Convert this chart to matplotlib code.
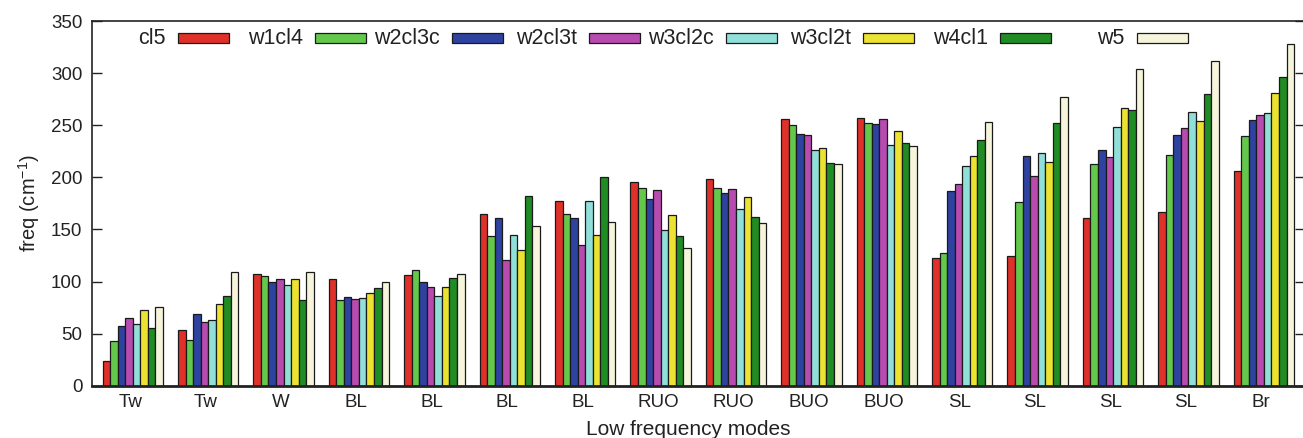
import numpy as np
import matplotlib
matplotlib.use("Agg")
import matplotlib.pyplot as plt
from matplotlib.patches import Rectangle

plt.rcParams['font.family'] = ['Liberation Sans', 'DejaVu Sans']

# Vibrational modes (x categories)
modes = ["Tw", "Tw", "W", "BL", "BL", "BL", "BL", "RUO", "RUO",
         "BUO", "BUO", "SL", "SL", "SL", "SL", "Br"]

series = ["cl5", "w1cl4", "w2cl3c", "w2cl3t", "w3cl2c", "w3cl2t", "w4cl1", "w5"]

# Frequencies in cm^-1, one list per cluster
cl5    = [23.7, 53.1, 106.8, 102.0, 105.8, 165.2, 176.8, 195.9, 197.9, 256.3, 257.3, 122.7, 124.3, 161.4, 166.8, 206.2]
w1cl4  = [42.5, 43.5, 104.8, 81.8, 111.4, 143.8, 165.2, 190.2, 190.2, 250.6, 252.5, 126.9, 176.4, 212.9, 221.8, 240.0]
w2cl3c = [57.2, 68.4, 99.1, 84.7, 99.1, 160.5, 161.4, 179.6, 184.7, 242.0, 251.6, 187.3, 220.5, 226.6, 241.0, 254.7]
w2cl3t = [64.6, 61.0, 102.0, 82.8, 94.8, 120.2, 135.2, 187.6, 188.3, 241.0, 255.7, 193.7, 201.4, 219.3, 247.4, 260.2]
w3cl2c = [59.1, 62.6, 96.2, 83.7, 86.3, 144.8, 176.8, 149.9, 170.0, 226.3, 231.1, 211.3, 223.7, 248.4, 263.1, 262.1]
w3cl2t = [72.6, 78.3, 102.0, 88.9, 94.3, 130.7, 144.2, 164.0, 181.2, 228.5, 244.8, 220.9, 214.8, 266.9, 254.4, 281.3]
w4cl1  = [55.0, 85.7, 82.1, 93.3, 102.9, 181.6, 200.7, 143.2, 161.7, 214.2, 233.3, 236.2, 252.5, 265.0, 280.3, 296.6]
w5     = [75.1, 108.7, 108.7, 100.0, 107.4, 153.4, 157.3, 132.6, 155.7, 212.9, 230.1, 252.8, 277.4, 304.0, 311.3, 327.9]

values = [cl5, w1cl4, w2cl3c, w2cl3t, w3cl2c, w3cl2t, w4cl1, w5]
colors = ["#e0302a", "#64c84c", "#2e42a0", "#b84baf", "#90dfd8",
          "#ece232", "#208c24", "#f6f5dc"]

W, H = 1303, 438
fig = plt.figure(figsize=(W / 100, H / 100), dpi=100)

left_px, right_px, top_px, bottom_px = 92, 1304.6, 21, 385.7
ax = fig.add_axes([left_px / W, (H - bottom_px) / H,
                   (right_px - left_px) / W, (bottom_px - top_px) / H])

n = len(series)
bar_w = 0.1
x = np.arange(len(modes))
for i, (vals, col) in enumerate(zip(values, colors)):
    offs = (i - (n - 1) / 2) * bar_w
    ax.bar(x + offs, vals, width=bar_w, color=col, edgecolor="#1a1a1a",
           linewidth=0.9, zorder=2)

ax.set_xlim(-0.54, 15.54)
ax.set_ylim(0, 350)
ax.set_yticks(np.arange(0, 351, 50))
ax.set_xticks(x - 0.035)
ax.set_xticklabels(modes)
ax.tick_params(axis="x", length=0, pad=6, labelsize=13.5, colors="#222222")
ax.tick_params(axis="y", direction="in", length=7, width=1, labelsize=13.5,
               colors="#222222", right=True, pad=7)
for s in ("top", "left", "right"):
    ax.spines[s].set_linewidth(1.2)
    ax.spines[s].set_color("#222222")
ax.spines["bottom"].set_linewidth(2)
ax.spines["bottom"].set_color("#222222")

ax.set_ylabel("freq (cm$^{\\mathregular{-1}}$)", fontsize=14.5, labelpad=6, color="#222222")
ax.set_xlabel("Low frequency modes", fontsize=15, color="#222222")
ax.xaxis.set_label_coords((688 - left_px) / (right_px - left_px), -0.094)

# Key: label text followed by a colour swatch, evenly spaced in one row
to_fig = lambda px, py: (px / W, 1 - py / H)
for i, (name, col) in enumerate(zip(series, colors)):
    bx = 177.7 + 137.0 * i
    by = 38.0
    rx, ry = to_fig(bx, by + 5)
    fig.patches.append(Rectangle((rx, ry), 51 / W, 10 / H, transform=fig.transFigure,
                                 facecolor=col, edgecolor="#1a1a1a", linewidth=0.9))
    tx, ty = to_fig(bx - 12, by)
    fig.text(tx, ty, name, ha="right", va="center", fontsize=15.5, color="#222222")

fig.savefig("out.png", dpi=100)
